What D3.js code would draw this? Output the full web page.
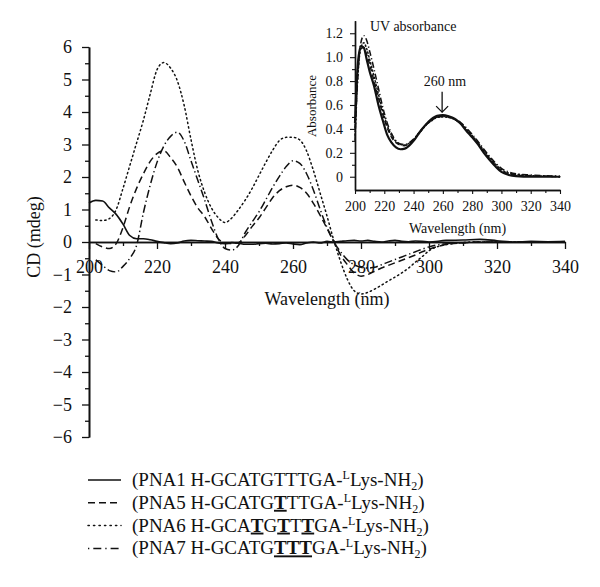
<!DOCTYPE html>
<html><head><meta charset="utf-8">
<script src="https://cdn.jsdelivr.net/npm/d3@7"></script>
<style>
html,body{margin:0;padding:0;background:#fff;}
svg{display:block;}
svg text{font-family:"Liberation Serif","Times New Roman",serif !important;fill:#111;}
</style></head>
<body>
<svg id="chart" width="600" height="587" font-family="Liberation Serif"></svg>
<script>
// ---------------- DATA ----------------
const cdWavelengths = [200,202,204,206,208,210,212,214,216,218,220,222,224,226,228,230,232,234,236,238,240,242,244,246,248,250,252,254,256,258,260,262,264,266,268,270,272,274,276,278,280,282,284,286,288,290,292,294,296,298,300,305,310,315,320,325,330,335,340];
const cdPNA1 = [1.2,1.28,1.26,1.05,0.85,0.55,0.2,0.1,0.1,0.07,0.02,-0.02,-0.05,-0.03,0.03,0.05,0.04,0.03,0.02,-0.03,-0.05,-0.02,-0.04,-0.07,-0.07,-0.05,-0.04,-0.06,-0.05,-0.03,-0.06,-0.08,-0.03,0.0,-0.03,0.02,0.0,0.02,0.04,0.05,0.03,0.05,0.02,0.0,0.03,0.05,0.02,0.01,0.03,0.02,0.0,0.05,0.06,0.08,0.04,0.0,0.02,0.01,0.02];
const cdPNA5 = [null,-0.05,-0.15,-0.2,-0.05,0.45,1.1,1.65,2.1,2.48,2.72,2.81,2.6,2.3,1.85,1.42,1.05,0.78,0.42,0.1,-0.03,-0.05,-0.02,0.2,0.48,0.74,1.05,1.36,1.58,1.7,1.75,1.68,1.5,1.19,0.82,0.42,0.02,-0.4,-0.7,-0.95,-1.05,-1.0,-0.9,-0.8,-0.72,-0.64,-0.56,-0.48,-0.4,-0.3,-0.22,-0.08,-0.03,0.0,0.0,0.0,0.0,0.0,0.0];
const cdPNA6 = [null,0.68,0.66,0.72,1.0,1.65,2.35,3.05,3.75,4.55,5.3,5.52,5.35,4.95,4.2,3.15,2.2,1.53,1.05,0.75,0.6,0.74,1.0,1.3,1.65,2.05,2.45,2.82,3.12,3.22,3.22,3.14,2.8,2.2,1.5,0.8,0.05,-0.6,-1.15,-1.5,-1.6,-1.55,-1.45,-1.33,-1.2,-1.08,-0.95,-0.8,-0.62,-0.45,-0.27,-0.08,-0.02,0.0,0.0,0.0,0.0,0.0,0.0];
const cdPNA7 = [null,-0.55,-0.72,-0.88,-0.92,-0.75,-0.5,-0.1,0.9,1.75,2.45,2.95,3.25,3.38,3.1,2.5,1.9,1.3,0.65,0.1,-0.2,-0.25,-0.1,0.3,0.62,0.93,1.3,1.68,2.02,2.32,2.5,2.42,2.1,1.6,1.0,0.45,0.0,-0.3,-0.55,-0.7,-0.78,-0.8,-0.78,-0.7,-0.62,-0.54,-0.46,-0.38,-0.3,-0.22,-0.15,-0.05,-0.02,0.0,0.0,0.0,0.0,0.0,0.0];

const uvWavelengths = [200,202,204,206,208,210,213,216,219,222,225,228,231,234,237,240,244,248,252,256,260,264,268,272,276,280,284,288,292,296,300,305,310,320,330,340];
const uvPNA1 = [0.45,0.95,1.09,1.08,0.98,0.88,0.76,0.6,0.47,0.35,0.285,0.245,0.23,0.235,0.26,0.3,0.37,0.43,0.48,0.51,0.515,0.505,0.485,0.445,0.385,0.33,0.27,0.2,0.14,0.085,0.04,0.015,0.005,0,0,0];
const uvPNA5 = [0.4,0.92,1.07,1.08,1.02,0.94,0.8,0.66,0.52,0.41,0.33,0.285,0.265,0.26,0.275,0.31,0.37,0.43,0.47,0.5,0.505,0.5,0.48,0.445,0.39,0.335,0.275,0.21,0.15,0.095,0.05,0.025,0.015,0.008,0.004,0];
const uvPNA6 = [0.35,0.85,1.08,1.12,1.07,0.98,0.84,0.69,0.55,0.43,0.345,0.295,0.27,0.265,0.28,0.31,0.365,0.425,0.465,0.495,0.5,0.495,0.48,0.45,0.4,0.345,0.285,0.22,0.16,0.105,0.06,0.03,0.02,0.01,0.005,0];
const uvPNA7 = [0.3,0.85,1.12,1.18,1.14,1.05,0.9,0.74,0.58,0.45,0.36,0.3,0.275,0.27,0.285,0.315,0.37,0.43,0.47,0.5,0.505,0.5,0.485,0.455,0.41,0.355,0.295,0.23,0.17,0.115,0.07,0.04,0.025,0.015,0.008,0.005];

const cdXTicks = [200,220,240,260,280,300,320,340];
const cdYTicks = [-6,-5,-4,-3,-2,-1,0,1,2,3,4,5,6];
const uvXTicks = [200,220,240,260,280,300,320,340];
const uvYTicks = [0,0.2,0.4,0.6,0.8,1.0,1.2];

const seriesNames = ["PNA1","PNA5","PNA6","PNA7"];
// sequence segments: [text, emphasised?]
const seqPNA1 = [["GCATGTTTGA",0]];
const seqPNA5 = [["GCATG",0],["T",1],["TTGA",0]];
const seqPNA6 = [["GCA",0],["T",1],["G",0],["T",1],["T",0],["T",1],["GA",0]];
const seqPNA7 = [["GCATG",0],["TTT",1],["GA",0]];

// ---------------- STYLE ----------------
const ink = "#111";
const serif = "Liberation Serif";
const dashStyles = [null, "7,4", "1.3,3.2", "8,3,1.3,3"];
const svg = d3.select("#chart");

function styleAxis(g, size){
  g.attr("font-family", serif).attr("font-size", size);
  g.selectAll("text").attr("font-family", serif).style("font-size", size + "px").attr("fill", ink);
}

// ---------------- MAIN CD PLOT ----------------
const x = d3.scaleLinear().domain([200,340]).range([89,565]);
const y = d3.scaleLinear().domain([-6,6]).range([437,47]);
const fmtMinus = d => d < 0 ? "\u2212" + Math.abs(d) : String(d);

const yAx = svg.append("g").attr("transform",`translate(${x(200)},0)`)
  .call(d3.axisLeft(y).tickValues(cdYTicks).tickSize(7).tickSizeOuter(0).tickPadding(10).tickFormat(fmtMinus));
svg.append("g").attr("transform",`translate(${x(200)},0)`)
  .call(d3.axisLeft(y).tickValues(d3.range(-5.5,6,1)).tickSize(4).tickSizeOuter(0).tickFormat(""));
const xAx = svg.append("g").attr("transform",`translate(0,${y(0)})`)
  .call(d3.axisBottom(x).tickValues(cdXTicks).tickSize(7).tickSizeOuter(0).tickPadding(11));
svg.append("g").attr("transform",`translate(0,${y(0)})`)
  .call(d3.axisBottom(x).tickValues([210,230,250,270,290,310,330]).tickSize(4).tickSizeOuter(0).tickFormat(""));
svg.selectAll(".domain").attr("stroke",ink).attr("stroke-width",1.6);
svg.selectAll(".tick line").attr("stroke",ink).attr("stroke-width",1.3);
styleAxis(yAx, 18);
styleAxis(xAx, 18);

svg.append("text").attr("transform",`translate(40,${237}) rotate(-90)`)
  .attr("text-anchor","middle").style("font-size","18px").text("CD (mdeg)");
svg.append("text").attr("x",327).attr("y",305)
  .attr("text-anchor","middle").style("font-size","18px").text("Wavelength (nm)");

const cdSeries = [cdPNA1,cdPNA5,cdPNA6,cdPNA7];
const lineCD = d3.line().defined(d => d[1] != null)
  .x(d => x(d[0])).y(d => y(d[1])).curve(d3.curveMonotoneX);
cdSeries.forEach((vals,i) => {
  const pts = cdWavelengths.map((w,j) => [w, vals[j]]);
  svg.append("path").attr("d", lineCD(pts)).attr("fill","none")
    .attr("stroke",ink).attr("stroke-width", i===0 ? 1.6 : 1.5)
    .attr("stroke-linecap", i===2 ? "round" : "butt")
    .attr("stroke-dasharray", dashStyles[i]);
});

// ---------------- INSET UV PLOT ----------------
const xi = d3.scaleLinear().domain([200,340]).range([355,560]);
const yi = d3.scaleLinear().domain([-0.111,1.305]).range([190,20.7]);
const gi = svg.append("g");
const yiAx = gi.append("g").attr("transform",`translate(${xi(200)},0)`)
  .call(d3.axisLeft(yi).tickValues(uvYTicks).tickSize(5).tickSizeOuter(0).tickPadding(7)
    .tickFormat(d => d === 0 ? "0" : d3.format(".1f")(d)));
gi.append("g").attr("transform",`translate(${xi(200)},0)`)
  .call(d3.axisLeft(yi).tickValues([0.1,0.3,0.5,0.7,0.9,1.1]).tickSize(3).tickSizeOuter(0).tickFormat(""));
const xiAx = gi.append("g").attr("transform",`translate(0,${yi.range()[0]})`)
  .call(d3.axisBottom(xi).tickValues(uvXTicks).tickSize(4).tickSizeOuter(0).tickPadding(7));
gi.append("g").attr("transform",`translate(0,${yi.range()[0]})`)
  .call(d3.axisBottom(xi).tickValues([210,230,250,270,290,310,330]).tickSize(3).tickSizeOuter(0).tickFormat(""));
gi.selectAll(".domain").attr("stroke",ink).attr("stroke-width",1.4);
gi.selectAll(".tick line").attr("stroke",ink).attr("stroke-width",1.1);
styleAxis(yiAx, 14);
styleAxis(xiAx, 14);

gi.append("text").attr("transform",`translate(316,106) rotate(-90)`)
  .attr("text-anchor","middle").style("font-size","13px").text("Absorbance");
gi.append("text").attr("x",(xi(200)+xi(340))/2).attr("y",233)
  .attr("text-anchor","middle").style("font-size","14px").text("Wavelength (nm)");
gi.append("text").attr("x",xi(210.2)).attr("y",yi(1.215))
  .style("font-size","14px").text("UV absorbance");
gi.append("text").attr("x",xi(261.5)).attr("y",yi(0.763))
  .attr("text-anchor","middle").style("font-size","14px").text("260 nm");
// arrow
const ax = xi(259.5), aTop = yi(0.71), aTip = yi(0.54);
gi.append("line").attr("x1",ax).attr("x2",ax).attr("y1",aTop).attr("y2",aTip)
  .attr("stroke",ink).attr("stroke-width",1.3);
gi.append("polyline").attr("points",`${ax-6},${aTip-6} ${ax},${aTip} ${ax+6},${aTip-6}`)
  .attr("fill","none").attr("stroke",ink).attr("stroke-width",1.3);

const uvSeries = [uvPNA1,uvPNA5,uvPNA6,uvPNA7];
const lineUV = d3.line().x(d => xi(d[0])).y(d => yi(d[1])).curve(d3.curveMonotoneX);
[1,2,3,0].forEach(i => {
  const pts = uvWavelengths.map((w,j) => [w, uvSeries[i][j]]);
  gi.append("path").attr("d", lineUV(pts)).attr("fill","none")
    .attr("stroke",ink).attr("stroke-width", i===0 ? 2.2 : 1.5)
    .attr("stroke-linecap", i===2 ? "round" : "butt")
    .attr("stroke-dasharray", i===0 ? null : (i===1 ? "5,3" : (i===2 ? "1.2,2.5" : "6,2.5,1.2,2.5")));
});

// ---------------- LEGEND ----------------
const seqs = [seqPNA1,seqPNA5,seqPNA6,seqPNA7];
const legY0 = 480, legDy = 22.8;
seriesNames.forEach((name,i) => {
  const yy = legY0 + i*legDy;
  svg.append("line").attr("x1",88).attr("x2",121).attr("y1",yy).attr("y2",yy)
    .attr("stroke",ink).attr("stroke-width",1.5)
    .attr("stroke-linecap", i===2 ? "round" : "butt")
    .attr("stroke-dasharray", i===3 ? "1.3,4,8,4" : (i===2 ? "1.3,4.2" : dashStyles[i]));
  const t = svg.append("text").attr("x",132).attr("y",yy+6).style("font-size","19px");
  t.append("tspan").text(`(${name} H-`);
  seqs[i].forEach(([s,em]) => {
    const sp = t.append("tspan").text(s);
    if (em) sp.style("font-weight","bold").style("text-decoration","underline");
  });
  t.append("tspan").text("-");
  t.append("tspan").attr("dy",-7).style("font-size","12px").text("L");
  t.append("tspan").attr("dy",7).text("Lys-NH");
  t.append("tspan").attr("dy",4).style("font-size","12px").text("2");
  t.append("tspan").attr("dy",-4).text(")");
});
</script>
</body></html>
